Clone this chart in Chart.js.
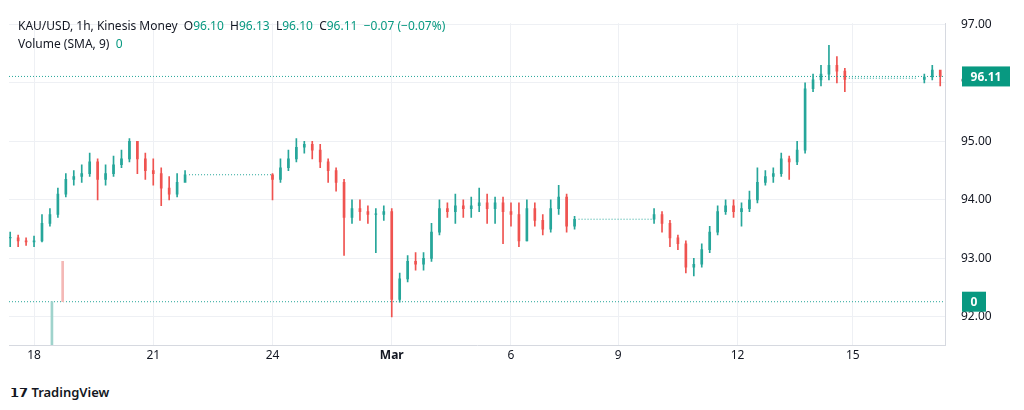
<!DOCTYPE html>
<html>
<head>
<meta charset="utf-8">
<script src="https://cdn.jsdelivr.net/npm/chart.js@4/dist/chart.umd.min.js"></script>
<style>
  body { margin: 0; background: #fff; font-family: "Noto Sans", Arial, sans-serif; }
  #wrap { position: relative; width: 1024px; height: 410px; }
  #box { position: absolute; left: 0; top: 0; width: 1024px; height: 375px; }
  .hdr { position: absolute; left: 18px; font-size: 12px; color: #131722; white-space: nowrap; }
  .v { color: #089981; }
  #logo { position: absolute; left: 10px; top: 383px; font-size: 13px; color: #131722; font-weight: 600; }
</style>
</head>
<body>
<div id="wrap">
  <div id="box"><canvas id="chart"></canvas></div>
  <div class="hdr" style="top:17px">KAU/USD, 1h, Kinesis Money &nbsp;O<span class="v">96.10</span> &nbsp;H<span class="v">96.13</span> &nbsp;L<span class="v">96.10</span> &nbsp;C<span class="v">96.11</span> &nbsp;<span class="v">−0.07 (−0.07%)</span></div>
  <div class="hdr" style="top:35px">Volume (SMA, 9) &nbsp;<span class="v">0</span></div>
  <div id="logo">𝟭𝟳 TradingView</div>
</div>
<script>
// --- Data (time in days from the "18" tick, 0.2 day per candle) ---
const startT = -0.6;
const stepT = 0.2;
const closes = [
  93.35, 93.30, 93.28, 93.30, 93.60, 93.75, 94.10, 94.35, 94.40, 94.45,
  94.65, 94.35, 94.45, 94.60, 94.70, 95.00, 94.70, 94.50, 94.45, 94.20,
  94.10, 94.30, 94.43, null, null, null, null, null, null, null,
  null, null, null, 94.35, 94.55, 94.70, 94.90, 94.95, 94.85, 94.65,
  94.50, 94.30, 93.70, 93.85, 93.80, 93.75, 93.75, 93.80, 92.30, 92.65,
  92.95, 92.90, 93.00, 93.45, 93.85, 93.80, 93.90, 93.85, 93.90, 93.95,
  93.85, 93.95, 93.80, 93.75, 93.30, 93.85, 93.65, 93.50, 93.85, 94.05,
  93.55, 93.67, null, null, null, null, null, null, null, null,
  null, 93.75, 93.60, 93.35, 93.25, 92.85, 92.90, 93.15, 93.45, 93.80,
  93.90, 93.80, 93.85, 94.00, 94.30, 94.40, 94.45, 94.70, 94.65, 94.85,
  95.90, 96.05, 96.15, 96.30, 96.20, 96.06, null, null, null, null,
  null, null, null, null, null, 96.10, 96.22, 96.11
];
const highs = [
  93.45, 93.40, 93.35, 93.38, 93.75, 93.85, 94.20, 94.45, 94.50, 94.60,
  94.80, 94.70, 94.60, 94.75, 94.85, 95.05, 95.00, 94.80, 94.70, 94.55,
  94.40, 94.45, 94.50, null, null, null, null, null, null, null,
  null, null, null, 94.45, 94.70, 94.85, 95.05, 95.00, 95.00, 94.95,
  94.70, 94.55, 94.35, 94.00, 94.00, 93.90, 93.85, 93.90, 93.85, 92.75,
  93.05, 93.10, 93.10, 93.60, 94.00, 93.95, 94.10, 94.00, 94.05, 94.20,
  94.10, 94.05, 94.05, 93.95, 93.95, 94.00, 93.95, 93.75, 94.00, 94.25,
  94.10, 93.72, null, null, null, null, null, null, null, null,
  null, 93.85, 93.80, 93.65, 93.40, 93.30, 93.00, 93.25, 93.55, 93.90,
  94.00, 94.00, 93.95, 94.15, 94.55, 94.50, 94.55, 94.80, 94.75, 95.00,
  96.00, 96.15, 96.30, 96.64, 96.45, 96.25, null, null, null, null,
  null, null, null, null, null, 96.15, 96.30, 96.18
];
const lows = [
  93.20, 93.20, 93.22, 93.20, 93.28, 93.55, 93.70, 94.05, 94.25, 94.30,
  94.40, 94.00, 94.25, 94.40, 94.55, 94.65, 94.45, 94.35, 94.25, 93.90,
  94.00, 94.05, 94.35, null, null, null, null, null, null, null,
  null, null, null, 94.00, 94.30, 94.50, 94.65, 94.80, 94.70, 94.55,
  94.30, 94.15, 93.05, 93.60, 93.65, 93.60, 93.10, 93.65, 92.00, 92.25,
  92.60, 92.80, 92.80, 92.95, 93.40, 93.70, 93.60, 93.70, 93.70, 93.80,
  93.60, 93.60, 93.25, 93.55, 93.20, 93.30, 93.55, 93.40, 93.45, 93.75,
  93.45, 93.50, null, null, null, null, null, null, null, null,
  null, 93.60, 93.45, 93.20, 93.15, 92.75, 92.70, 92.85, 93.10, 93.40,
  93.75, 93.70, 93.55, 93.80, 93.95, 94.25, 94.30, 94.40, 94.35, 94.60,
  94.80, 95.85, 95.95, 96.05, 96.00, 95.85, null, null, null, null,
  null, null, null, null, null, 96.00, 96.05, 95.95
];
// flat no-trade stretches: [fromT, toT, price]
const flatFrom = [3.9, 13.7, 20.5];
const flatTo = [6.0, 15.6, 22.2];
const flatPrice = [94.43, 93.67, 96.08];
const lastPrice = 96.11;
const volumeLevel = 92.26;
// volume spikes drawn on the price pane
const volT = [0.45, 0.72];
const volLow = [91.52, 92.26];
const volHigh = [92.26, 92.95];
const volColors = ["#9fd3cc", "#f4b8b6"];
const tickT = [0, 3, 6, 9, 12, 14.7, 17.7, 20.6];
const tickLabels = ["18", "21", "24", "Mar", "6", "9", "12", "15"];
const yTicks = [92, 93, 94, 95, 96, 97];

const UP = "#26a69a";
const DOWN = "#ef5350";

// --- Build candle datasets ---
const bodies = [], wicks = [], colors = [];
let prev = closes[0];
closes.forEach((c, i) => {
  if (c === null) return;
  const t = startT + i * stepT;
  const o = prev === null ? c : prev;
  const lo = Math.min(o, c), hi = Math.max(o, c);
  bodies.push({ x: t, y: [lo, hi === lo ? lo + 0.01 : hi] });
  wicks.push({ x: t, y: [lows[i], highs[i]] });
  colors.push(c >= o ? UP : DOWN);
  prev = c;
});

const flatSets = flatFrom.map((f, k) => ({
  type: "line",
  data: [{ x: f, y: flatPrice[k] }, { x: flatTo[k], y: flatPrice[k] }],
  borderColor: "#26a69a",
  borderWidth: 1,
  borderDash: [1, 2],
  pointRadius: 0,
}));

// --- Price labels on the right axis ---
const labelPlugin = {
  id: "labels",
  afterDraw(chart) {
    const c = chart.ctx, y = chart.scales.y, a = chart.chartArea;
    const box = (val, txt, w) => {
      const py = y.getPixelForValue(val);
      c.save();
      c.fillStyle = "#089981";
      c.fillRect(a.right + 17, py - 10, w, 20);
      c.fillStyle = "#fff";
      c.font = "bold 12px 'Noto Sans'";
      c.textAlign = "center";
      c.textBaseline = "middle";
      c.fillText(txt, a.right + 17 + w / 2, py + 1);
      c.restore();
    };
    box(lastPrice, lastPrice.toFixed(2), 48);
    box(volumeLevel, "0", 24);
  },
};

new Chart(document.getElementById("chart"), {
  type: "bar",
  data: {
    datasets: [
      { data: wicks, backgroundColor: colors, barThickness: 1, grouped: false, order: 2 },
      { data: bodies, backgroundColor: colors, barThickness: 2, grouped: false, order: 1 },
      { data: volT.map((t, k) => ({ x: t, y: [volLow[k], volHigh[k]] })), backgroundColor: volColors, barThickness: 2, grouped: false },
      ...flatSets,
      { type: "line", data: [{ x: -0.63, y: lastPrice }, { x: 23, y: lastPrice }], borderColor: "#26a69a", borderWidth: 1, borderDash: [1, 2], pointRadius: 0 },
      { type: "line", data: [{ x: -0.63, y: volumeLevel }, { x: 22.9, y: volumeLevel }], borderColor: "#26a69a", borderWidth: 1, borderDash: [1, 2], pointRadius: 0 },
    ],
  },
  options: {
    responsive: true,
    maintainAspectRatio: false,
    animation: false,
    layout: { padding: { left: 9, top: 2, right: 6 } },
    plugins: { legend: { display: false }, tooltip: { enabled: false } },
    scales: {
      x: {
        type: "linear",
        offset: false,
        min: -0.63,
        max: 22.92,
        afterBuildTicks: (s) => { s.ticks = tickT.map((v) => ({ value: v })); },
        afterFit: (s) => { s.height = 30; },
        ticks: {
          callback: (v) => tickLabels[tickT.indexOf(v)],
          color: "#131722",
          font: (ctx) => ({ family: "Noto Sans", size: 12, weight: ctx.tick && ctx.tick.value === 9 ? "bold" : "normal" }),
          maxRotation: 0,
          autoSkip: false,
        },
        grid: { color: "#eef0f4", drawTicks: false, offset: false },
        border: { color: "#d6d9e0" },
      },
      y: {
        position: "right",
        min: 91.52,
        max: 97.02,
        afterBuildTicks: (s) => { s.ticks = yTicks.map((v) => ({ value: v })); },
        afterFit: (s) => { s.width = 73; },
        ticks: {
          callback: (v) => v.toFixed(2),
          color: "#131722",
          font: { family: "Noto Sans", size: 12 },
          padding: 16,
        },
        grid: { color: "#eef0f4", drawTicks: false },
        border: { color: "#d6d9e0" },
      },
    },
  },
  plugins: [labelPlugin],
});
</script>
</body>
</html>
